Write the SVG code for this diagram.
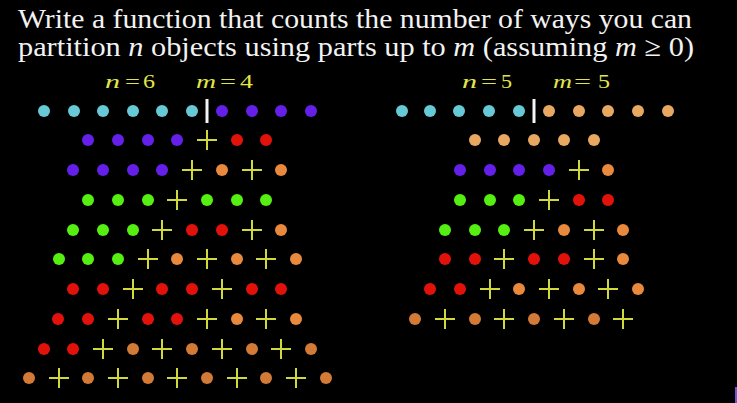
<svg xmlns="http://www.w3.org/2000/svg" xmlns:xlink="http://www.w3.org/1999/xlink" width="737" height="403" viewBox="0 0 737 403">
<style>
.title{font-family:"Liberation Serif","DejaVu Serif",serif;font-size:28px;fill:#f2f2f2}
.lab{font-family:"Liberation Serif","DejaVu Serif",serif;font-size:18px;fill:#e2e64a}
.it{font-style:italic}
.cy{fill:#67c9d6}.pu{fill:#6420e8}.re{fill:#e2120a}.or{fill:#e8893e}.od{fill:#d27a36}.gr{fill:#55f012}.lo{fill:#e8a862}
.pl{stroke:#d0d83a;stroke-width:2;fill:none}
.bar{stroke:#f4f4f4;stroke-width:3}
</style>
<defs>
<circle id="d" r="6"/>
<path id="p" d="M-10 0H10M0-10V10"/>
</defs>
<rect width="737" height="403" fill="#000"/>
<g id="title">
<text class="title" x="18" y="28" textLength="674" lengthAdjust="spacingAndGlyphs">Write a function that counts the number of ways you can</text>
<text class="title" x="18" y="56" textLength="676" lengthAdjust="spacingAndGlyphs">partition <tspan class="it">n</tspan> objects using parts up to <tspan class="it">m</tspan> (assuming <tspan class="it">m</tspan> ≥ 0)</text>
</g>
<g id="labels-left">
<text class="lab it" x="105" y="88" textLength="15" lengthAdjust="spacingAndGlyphs">n</text><text class="lab" x="125" y="88" textLength="15" lengthAdjust="spacingAndGlyphs">=</text><text class="lab" x="143" y="88" textLength="12" lengthAdjust="spacingAndGlyphs">6</text>
<text class="lab it" x="196" y="88" textLength="20" lengthAdjust="spacingAndGlyphs">m</text><text class="lab" x="220" y="88" textLength="16" lengthAdjust="spacingAndGlyphs">=</text><text class="lab" x="240" y="88" textLength="13" lengthAdjust="spacingAndGlyphs">4</text>
</g>
<g id="labels-right">
<text class="lab it" x="462" y="88" textLength="15" lengthAdjust="spacingAndGlyphs">n</text><text class="lab" x="481" y="88" textLength="16" lengthAdjust="spacingAndGlyphs">=</text><text class="lab" x="501" y="88" textLength="11" lengthAdjust="spacingAndGlyphs">5</text>
<text class="lab it" x="553" y="88" textLength="19" lengthAdjust="spacingAndGlyphs">m</text><text class="lab" x="574" y="88" textLength="17" lengthAdjust="spacingAndGlyphs">=</text><text class="lab" x="598" y="88" textLength="12" lengthAdjust="spacingAndGlyphs">5</text>
</g>
<g id="left">
<g id="L1">
<use href="#d" x="44" y="111" class="cy"/><use href="#d" x="74" y="111" class="cy"/><use href="#d" x="103" y="111" class="cy"/><use href="#d" x="133" y="111" class="cy"/><use href="#d" x="162" y="111" class="cy"/><use href="#d" x="192" y="111" class="cy"/>
<line class="bar" x1="207" y1="99" x2="207" y2="123"/>
<use href="#d" x="222" y="111" class="pu"/><use href="#d" x="252" y="111" class="pu"/><use href="#d" x="281" y="111" class="pu"/><use href="#d" x="311" y="111" class="pu"/>
</g>
<g id="L2">
<use href="#d" x="88" y="140" class="pu"/><use href="#d" x="118" y="140" class="pu"/><use href="#d" x="148" y="140" class="pu"/><use href="#d" x="177" y="140" class="pu"/>
<use href="#p" x="207" y="140" class="pl"/>
<use href="#d" x="237" y="140" class="re"/><use href="#d" x="266" y="140" class="re"/>
</g>
<g id="L3">
<use href="#d" x="73" y="170" class="pu"/><use href="#d" x="103" y="170" class="pu"/><use href="#d" x="133" y="170" class="pu"/><use href="#d" x="162" y="170" class="pu"/>
<use href="#p" x="192" y="170" class="pl"/><use href="#d" x="222" y="170" class="or"/><use href="#p" x="252" y="170" class="pl"/><use href="#d" x="281" y="170" class="or"/>
</g>
<g id="L4">
<use href="#d" x="88" y="200" class="gr"/><use href="#d" x="118" y="200" class="gr"/><use href="#d" x="148" y="200" class="gr"/>
<use href="#p" x="177" y="200" class="pl"/>
<use href="#d" x="207" y="200" class="gr"/><use href="#d" x="237" y="200" class="gr"/><use href="#d" x="266" y="200" class="gr"/>
</g>
<g id="L5">
<use href="#d" x="73" y="230" class="gr"/><use href="#d" x="103" y="230" class="gr"/><use href="#d" x="133" y="230" class="gr"/>
<use href="#p" x="162" y="230" class="pl"/><use href="#d" x="192" y="230" class="re"/><use href="#d" x="222" y="230" class="re"/><use href="#p" x="252" y="230" class="pl"/><use href="#d" x="281" y="230" class="or"/>
</g>
<g id="L6">
<use href="#d" x="59" y="259" class="gr"/><use href="#d" x="88" y="259" class="gr"/><use href="#d" x="118" y="259" class="gr"/>
<use href="#p" x="148" y="259" class="pl"/><use href="#d" x="177" y="259" class="or"/><use href="#p" x="207" y="259" class="pl"/><use href="#d" x="237" y="259" class="or"/><use href="#p" x="266" y="259" class="pl"/><use href="#d" x="296" y="259" class="or"/>
</g>
<g id="L7">
<use href="#d" x="73" y="289" class="re"/><use href="#d" x="103" y="289" class="re"/><use href="#p" x="133" y="289" class="pl"/><use href="#d" x="162" y="289" class="re"/><use href="#d" x="192" y="289" class="re"/><use href="#p" x="222" y="289" class="pl"/><use href="#d" x="252" y="289" class="re"/><use href="#d" x="281" y="289" class="re"/>
</g>
<g id="L8">
<use href="#d" x="58" y="319" class="re"/><use href="#d" x="88" y="319" class="re"/><use href="#p" x="118" y="319" class="pl"/><use href="#d" x="148" y="319" class="re"/><use href="#d" x="177" y="319" class="re"/><use href="#p" x="207" y="319" class="pl"/><use href="#d" x="237" y="319" class="or"/><use href="#p" x="266" y="319" class="pl"/><use href="#d" x="296" y="319" class="or"/>
</g>
<g id="L9">
<use href="#d" x="44" y="349" class="re"/><use href="#d" x="73" y="349" class="re"/><use href="#p" x="103" y="349" class="pl"/><use href="#d" x="133" y="349" class="od"/><use href="#p" x="162" y="349" class="pl"/><use href="#d" x="192" y="349" class="od"/><use href="#p" x="222" y="349" class="pl"/><use href="#d" x="252" y="349" class="od"/><use href="#p" x="281" y="349" class="pl"/><use href="#d" x="311" y="349" class="od"/>
</g>
<g id="L10">
<use href="#d" x="29" y="378" class="od"/><use href="#p" x="59" y="378" class="pl"/><use href="#d" x="88" y="378" class="od"/><use href="#p" x="118" y="378" class="pl"/><use href="#d" x="148" y="378" class="od"/><use href="#p" x="177" y="378" class="pl"/><use href="#d" x="207" y="378" class="od"/><use href="#p" x="237" y="378" class="pl"/><use href="#d" x="266" y="378" class="od"/><use href="#p" x="296" y="378" class="pl"/><use href="#d" x="326" y="378" class="od"/>
</g>
</g>
<g id="right">
<g id="R1">
<use href="#d" x="402" y="111" class="cy"/><use href="#d" x="430" y="111" class="cy"/><use href="#d" x="459" y="111" class="cy"/><use href="#d" x="489" y="111" class="cy"/><use href="#d" x="519" y="111" class="cy"/>
<line class="bar" x1="534" y1="99" x2="534" y2="123"/>
<use href="#d" x="549" y="111" class="lo"/><use href="#d" x="579" y="111" class="lo"/><use href="#d" x="608" y="111" class="lo"/><use href="#d" x="638" y="111" class="lo"/><use href="#d" x="668" y="111" class="lo"/>
</g>
<g id="R2">
<use href="#d" x="475" y="140" class="lo"/><use href="#d" x="504" y="140" class="lo"/><use href="#d" x="534" y="140" class="lo"/><use href="#d" x="564" y="140" class="lo"/><use href="#d" x="594" y="140" class="lo"/>
</g>
<g id="R3">
<use href="#d" x="460" y="170" class="pu"/><use href="#d" x="490" y="170" class="pu"/><use href="#d" x="519" y="170" class="pu"/><use href="#d" x="549" y="170" class="pu"/><use href="#p" x="579" y="170" class="pl"/><use href="#d" x="608" y="170" class="or"/>
</g>
<g id="R4">
<use href="#d" x="460" y="200" class="gr"/><use href="#d" x="490" y="200" class="gr"/><use href="#d" x="519" y="200" class="gr"/><use href="#p" x="549" y="200" class="pl"/><use href="#d" x="579" y="200" class="re"/><use href="#d" x="608" y="200" class="re"/>
</g>
<g id="R5">
<use href="#d" x="445" y="230" class="gr"/><use href="#d" x="475" y="230" class="gr"/><use href="#d" x="504" y="230" class="gr"/><use href="#p" x="534" y="230" class="pl"/><use href="#d" x="564" y="230" class="or"/><use href="#p" x="594" y="230" class="pl"/><use href="#d" x="623" y="230" class="or"/>
</g>
<g id="R6">
<use href="#d" x="445" y="259" class="re"/><use href="#d" x="475" y="259" class="re"/><use href="#p" x="504" y="259" class="pl"/><use href="#d" x="534" y="259" class="re"/><use href="#d" x="564" y="259" class="re"/><use href="#p" x="594" y="259" class="pl"/><use href="#d" x="623" y="259" class="or"/>
</g>
<g id="R7">
<use href="#d" x="430" y="289" class="re"/><use href="#d" x="460" y="289" class="re"/><use href="#p" x="490" y="289" class="pl"/><use href="#d" x="519" y="289" class="or"/><use href="#p" x="549" y="289" class="pl"/><use href="#d" x="579" y="289" class="or"/><use href="#p" x="608" y="289" class="pl"/><use href="#d" x="638" y="289" class="or"/>
</g>
<g id="R8">
<use href="#d" x="415" y="319" class="od"/><use href="#p" x="445" y="319" class="pl"/><use href="#d" x="475" y="319" class="od"/><use href="#p" x="504" y="319" class="pl"/><use href="#d" x="534" y="319" class="od"/><use href="#p" x="564" y="319" class="pl"/><use href="#d" x="594" y="319" class="od"/><use href="#p" x="623" y="319" class="pl"/>
</g>
</g>
<rect x="735" y="387" width="2" height="16" fill="#7a50d8"/>
</svg>
